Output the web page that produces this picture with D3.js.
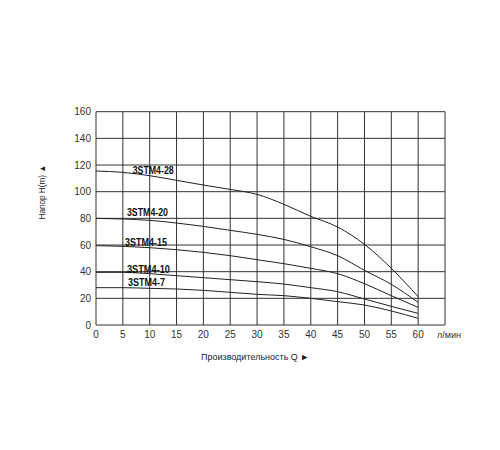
<!DOCTYPE html>
<html><head><meta charset="utf-8">
<script src="https://cdn.jsdelivr.net/npm/d3@7"></script>
<style>body{margin:0;background:#fff}</style>
</head><body><svg id="c" width="500" height="450"></svg>
<script>
const flows = [0,5,10,15,20,25,30,35,40,45,50,55,60];
const xTicks = [0,5,10,15,20,25,30,35,40,45,50,55,60];
const yTicks = [0,20,40,60,80,100,120,140,160];
const seriesNames = ["3STM4-28","3STM4-20","3STM4-15","3STM4-10","3STM4-7"];
const h28 = [115.5,114.5,112,108.5,105,101.7,98,90.5,81.5,73.5,60.5,42.5,21.2];
const h20 = [80,79.5,78.5,76.5,74,71,68,64.2,58.7,52,41,30.5,17];
const h15 = [59.5,59,58,56.5,54.5,52,49,46,42.5,38.5,31,22,13.2];
const h10 = [39.5,39.5,38.5,37,35.5,34,32.5,30.7,28,25,19.5,14,8.7];
const h7  = [28,28,27.5,27,26,24.5,23,22,20,17.5,15,10.5,5];
const labelAnchor = [[6.83,116],[5.77,84.75],[5.4,62.25],[5.77,42.15],[5.96,32.4]];
const labelWidth = [41,41,42,43,37];

const svg = d3.select("#c");
const x = d3.scaleLinear().domain([0,65]).range([96,445]);
const y = d3.scaleLinear().domain([0,160]).range([325,111.7]);
const g = svg.append("g");
// grid
const gridX = d3.range(0,70,5);
g.selectAll(".vx").data(gridX).join("line")
  .attr("x1",d=>x(d)).attr("x2",d=>x(d)).attr("y1",y(0)).attr("y2",y(160))
  .attr("stroke","#333").attr("stroke-width",1);
g.selectAll(".hy").data(yTicks).join("line")
  .attr("y1",d=>y(d)).attr("y2",d=>y(d)).attr("x1",x(0)).attr("x2",x(65))
  .attr("stroke","#333").attr("stroke-width",1);
// tick labels
g.selectAll(".yl").data(yTicks).join("text")
  .attr("x",91).attr("y",d=>y(d)).attr("dy","0.35em").attr("text-anchor","end")
  .attr("font-family","Liberation Sans, Arial, sans-serif").attr("font-size",10).attr("fill","#333")
  .text(d=>d);
g.selectAll(".xl").data(xTicks).join("text")
  .attr("x",d=>x(d)).attr("y",338).attr("text-anchor","middle")
  .attr("font-family","Liberation Sans, Arial, sans-serif").attr("font-size",10).attr("fill","#333")
  .text(d=>d);
g.append("text").attr("x",437).attr("y",338)
  .attr("font-family","Liberation Sans, Arial, sans-serif").attr("font-size",9).attr("fill","#333")
  .text("л/мин");
g.append("text").attr("x",201).attr("y",360)
  .attr("font-family","Liberation Sans, Arial, sans-serif").attr("font-size",9).attr("fill","#222")
  .text("Производительность Q ►");
g.append("text").attr("transform","translate(44.5,192) rotate(-90)").attr("text-anchor","middle")
  .attr("font-family","Liberation Sans, Arial, sans-serif").attr("font-size",8.2).attr("fill","#222")
  .text("Напор H(m) ▲");
// curves
const all = [h28,h20,h15,h10,h7];
const line = d3.line().x((d,i)=>x(flows[i])).y(d=>y(d)).curve(d3.curveMonotoneX);
all.forEach((s,k)=>{
  g.append("path").attr("d",line(s)).attr("fill","none").attr("stroke","#222").attr("stroke-width",1);
  g.append("text").attr("x",x(labelAnchor[k][0])).attr("y",y(labelAnchor[k][1]))
    .attr("dy","0.36em")
    .attr("font-family","Liberation Sans Narrow, Arial Narrow, Liberation Sans, sans-serif")
    .attr("font-weight","bold").attr("font-size",10.5).attr("fill","#111")
    .attr("textLength",labelWidth[k]).attr("lengthAdjust","spacingAndGlyphs")
    .text(seriesNames[k]);
});
</script></body></html>
